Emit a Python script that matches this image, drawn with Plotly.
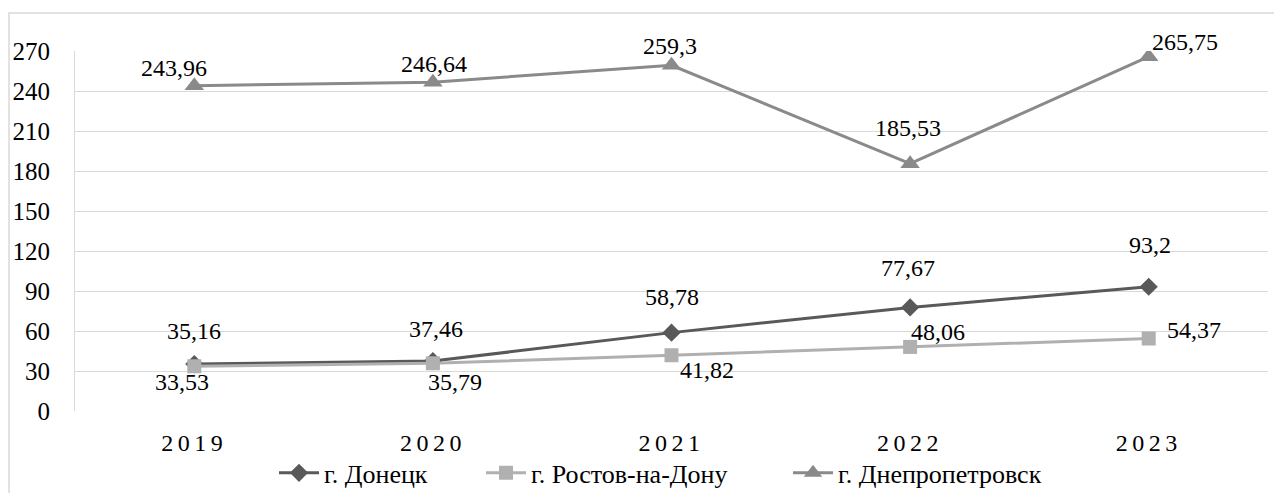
import plotly.graph_objects as go

years = ["2019", "2020", "2021", "2022", "2023"]
donetsk = [35.16, 37.46, 58.78, 77.67, 93.2]
rostov = [33.53, 35.79, 41.82, 48.06, 54.37]
dnepr = [243.96, 246.64, 259.3, 185.53, 265.75]
names = ["г. Донецк", "г. Ростов-на-Дону", "г. Днепропетровск"]
y_ticks = list(range(0, 271, 30))

colors = ["#595959", "#b0b0b0", "#8a8a8a"]
symbols = ["diamond", "square", "triangle-up"]
msizes = [14, 14, 17]

# label offsets (px) per series per point
offsets = [
    [(0, 33), (3, 32), (0, 36), (-2, 39), (1, 42)],
    [(-12, -16), (22, -19), (35, -15), (28, 15), (45, 9)],
    [(-20, 18), (1, 18), (-2, 19), (-2, 36), (36, 15)],
]

FONT = "Liberation Serif, Times New Roman, serif"
FS = 24
LEG_FS = 26

# page body has an 8px margin; compensate so the chart lands where the reference has it
W, H = 1266, 485
L, R, T, B = 67, 6, 43, 82
pw, ph = W - L - R, H - T - B

legend_ids = ["legend", "legend2", "legend3"]
legend_left_px = [266, 473, 780]

fig = go.Figure()
series = [donetsk, rostov, dnepr]
for i, vals in enumerate(series):
    fig.add_trace(go.Scatter(
        x=years, y=vals, name=names[i], mode="lines+markers",
        line=dict(color=colors[i], width=3),
        marker=dict(symbol=symbols[i], size=msizes[i], color=colors[i]),
        legend=legend_ids[i],
    ))

annotations = []
for i, vals in enumerate(series):
    for j, v in enumerate(vals):
        dx, dy = offsets[i][j]
        annotations.append(dict(
            x=j, y=v, xref="x", yref="y",
            text=f"{v:g}".replace(".", ","), showarrow=False,
            xshift=dx, yshift=dy,
            font=dict(family=FONT, size=FS, color="#000000"),
        ))

legend_layout = {}
for k, lid in enumerate(legend_ids):
    legend_layout[lid] = dict(
        orientation="h", x=(legend_left_px[k] - L) / pw, xanchor="left",
        y=-0.172, yanchor="middle",
        font=dict(family=FONT, size=LEG_FS, color="#000000"),
        itemwidth=40, bgcolor="rgba(0,0,0,0)", borderwidth=0,
    )

fig.update_layout(
    width=W, height=H,
    margin=dict(l=L, r=R, t=T, b=B, autoexpand=False),
    paper_bgcolor="white", plot_bgcolor="white",
    font=dict(family=FONT, size=FS, color="#000000"),
    annotations=annotations,
    showlegend=True,
    xaxis=dict(type="category", range=[-0.5, 4.5], showgrid=False, zeroline=False,
               showline=False, ticks="",
               tickvals=years,
               ticktext=[f'<span style="letter-spacing:4.5px">{y}</span>' for y in years],
               tickfont=dict(family=FONT, size=FS, color="#000000"),
               ticklabelstandoff=15),
    yaxis=dict(range=[0, 270], tickvals=y_ticks, showgrid=True, gridcolor="#d9d9d9",
               gridwidth=1, zeroline=False, showline=True, linecolor="#d9d9d9",
               linewidth=1, ticks="", ticklabelstandoff=19,
               tickfont=dict(family=FONT, size=FS + 1, color="#000000")),
    shapes=[dict(type="rect", xref="paper", yref="paper",
                 x0=(1 - L) / pw, x1=(W + 20 - L) / pw,
                 y0=-(H + 20 - T - ph) / ph, y1=1 + (T - 5) / ph,
                 line=dict(color="#d9d9d9", width=1.5), layer="below")],
    **legend_layout,
)

fig.write_html("out.html")
